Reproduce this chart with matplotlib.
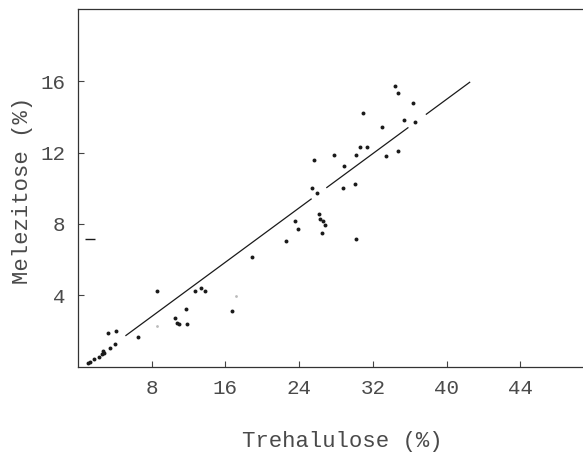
import matplotlib
matplotlib.use("Agg")
import matplotlib.pyplot as plt
import numpy as np

# ---- data ----
trehalulose = [34.36, 34.72, 36.35, 30.91, 35.34, 36.62, 32.98, 30.55, 31.39, 27.83,
               30.20, 33.46, 34.72, 28.85, 25.66, 25.36, 25.91, 28.74, 30.01, 26.13,
               26.28, 26.56, 26.75, 26.45, 23.59, 23.84, 22.58, 30.20, 18.91, 8.54,
               12.71, 13.33, 13.83, 11.70, 16.70, 10.53, 10.78, 10.97, 11.87, 6.51,
               3.28, 4.11, 4.04, 3.49, 2.70, 2.84, 2.56, 2.26, 1.75, 1.32, 1.10]
melezitose = [15.73, 15.34, 14.81, 14.21, 13.84, 13.71, 13.46, 12.30, 12.30, 11.89,
              11.89, 11.83, 12.08, 11.23, 11.61, 10.02, 9.74, 10.02, 10.22, 8.55,
              8.27, 8.18, 7.94, 7.49, 8.14, 7.73, 7.07, 7.18, 6.14, 4.24,
              4.24, 4.39, 4.24, 3.21, 3.12, 2.74, 2.46, 2.37, 2.40, 1.65,
              1.90, 1.99, 1.28, 1.05, 0.87, 0.75, 0.68, 0.53, 0.42, 0.26, 0.19]

faint_x = [8.54, 17.14]
faint_y = [2.27, 3.98]

stray_x = [1.34]
stray_y = [7.17]

fit_slope = 0.381
fit_intercept = -0.24
fit_seg_start = [5.2, 27.0, 37.8]
fit_seg_end = [25.3, 35.8, 42.5]

xticks = [8, 16, 24, 32, 40, 48]
xticklabels = ["8", "16", "24", "32", "40", "44"]
yticks = [4, 8, 12, 16]
yticklabels = ["4", "8", "12", "16"]

# ---- figure ----
plt.rcParams['font.family'] = ['Liberation Mono', 'DejaVu Sans Mono']
fig = plt.figure(figsize=(5.83, 4.63), dpi=100)
ax = fig.add_axes([78/583, 1 - 366.5/463, 1 - 78/583, 357.2/463])

ax.set_xlim(0, 54.8)
ax.set_ylim(0, 20.05)

ink = "#1a1a1a"
txt = "#4a4a4a"
for s0, s1 in zip(fit_seg_start, fit_seg_end):
    xs = np.array([s0, s1])
    ax.plot(xs, fit_slope * xs + fit_intercept, color=ink, lw=0.9)

ax.scatter(trehalulose, melezitose, s=8, color=ink, linewidths=0, zorder=3)
ax.scatter(faint_x, faint_y, s=4, color="#bbbbbb", linewidths=0, zorder=3)
ax.plot(stray_x, stray_y, marker="_", ms=7, mew=1.0, color=ink, ls="none")

ax.set_xticks(xticks)
ax.set_xticklabels(xticklabels)
ax.set_yticks(yticks)
ax.set_yticklabels(yticklabels)
ax.tick_params(direction="in", length=4, width=0.8, color="#444444",
               labelsize=15, labelcolor=txt)
ax.tick_params(axis="x", pad=9)
ax.tick_params(axis="y", pad=9)

for side in ["left", "bottom", "top"]:
    ax.spines[side].set_linewidth(0.9)
    ax.spines[side].set_color("#333333")
ax.spines["right"].set_visible(False)

fig.text(342/583, 1 - 441/463, "Trehalulose (%)", ha="center", va="center",
         fontsize=16, color=txt)
fig.text(23/583, 1 - 190/463, "Melezitose (%)", ha="center", va="center",
         rotation=90, fontsize=16, color=txt)

fig.savefig("out.png", dpi=100)
